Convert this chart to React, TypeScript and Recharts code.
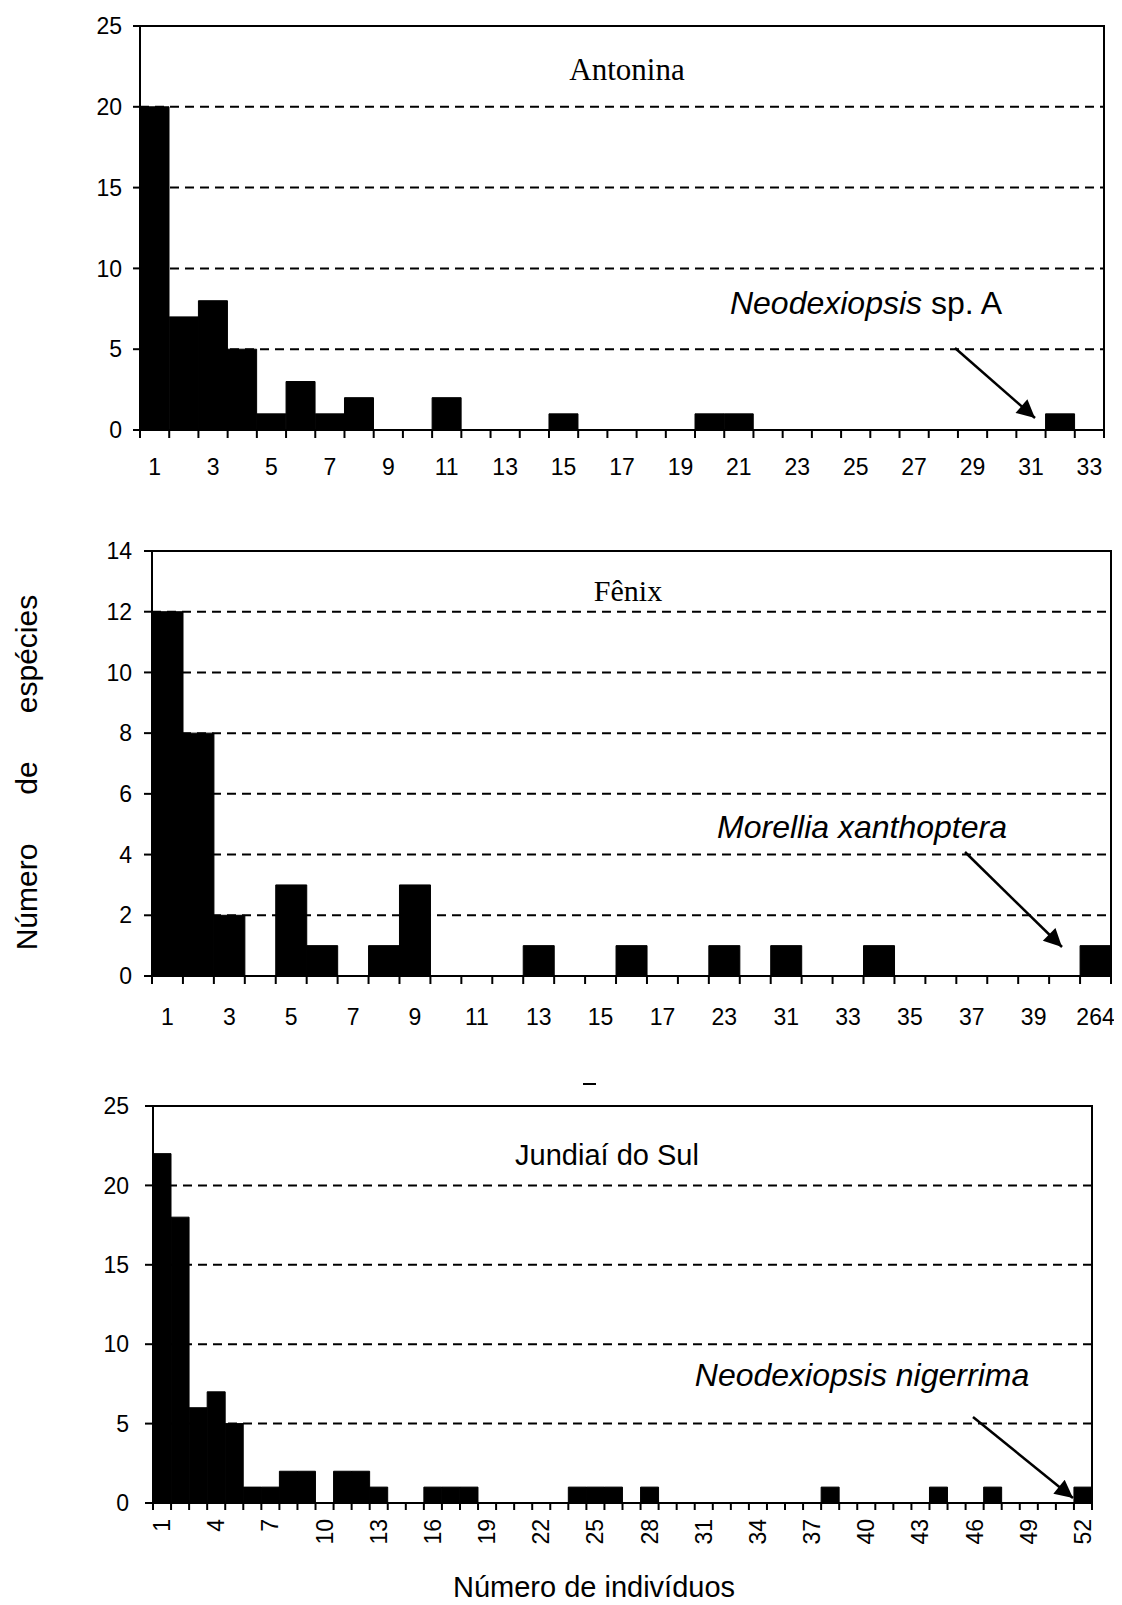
import { BarChart, Bar, XAxis, YAxis, CartesianGrid } from "recharts";

// Antonina
const antoninaCategories = [
  "1", "2", "3", "4", "5", "6", "7", "8", "9", "10", "11", "12", "13", "14", "15", "16", "17",
  "18", "19", "20", "21", "22", "23", "24", "25", "26", "27", "28", "29", "30", "31", "32", "33",
];
const antoninaCounts = [
  20, 7, 8, 5, 1, 3, 1, 2, 0, 0, 2, 0, 0, 0, 1, 0, 0, 0, 0, 1, 1, 0, 0, 0, 0, 0, 0, 0, 0, 0, 0, 1, 0,
];
const antoninaTicks = [0, 5, 10, 15, 20, 25];

// Fênix (only every other label is printed in the original)
const fenixCategories = [
  "1", "2", "3", "4", "5", "6", "7", "8", "9", "10", "11", "12", "13", "14", "15", "16", "17",
  "20", "23", "27", "31", "32", "33", "34", "35", "36", "37", "38", "39", "40", "264",
];
const fenixCounts = [
  12, 8, 2, 0, 3, 1, 0, 1, 3, 0, 0, 0, 1, 0, 0, 1, 0, 0, 1, 0, 1, 0, 0, 1, 0, 0, 0, 0, 0, 0, 1,
];
const fenixTicks = [0, 2, 4, 6, 8, 10, 12, 14];

// Jundiaí do Sul
const jundiaiCategories = [
  "1", "2", "3", "4", "5", "6", "7", "8", "9", "10", "11", "12", "13", "14", "15", "16", "17",
  "18", "19", "20", "21", "22", "23", "24", "25", "26", "27", "28", "29", "30", "31", "32", "33",
  "34", "35", "36", "37", "38", "39", "40", "41", "42", "43", "44", "45", "46", "47", "48", "49",
  "50", "51", "52",
];
const jundiaiCounts = [
  22, 18, 6, 7, 5, 1, 1, 2, 2, 0, 2, 2, 1, 0, 0, 1, 1, 1, 0, 0, 0, 0, 0, 1, 1, 1, 0, 1, 0, 0,
  0, 0, 0, 0, 0, 0, 0, 1, 0, 0, 0, 0, 0, 1, 0, 0, 1, 0, 0, 0, 0, 1,
];
const jundiaiTicks = [0, 5, 10, 15, 20, 25];

const SANS = "'Liberation Sans', Arial, sans-serif";
const SERIF = "'Liberation Serif', 'Times New Roman', serif";

function makeXTick(n: number, plotWidth: number, step: number, markLen: number, gap: number, rotated: boolean) {
  const bw = plotWidth / n;
  return (props: any) => {
    const { x, y, payload, index } = props;
    const i = index ?? 0;
    const show = i % step === 0;
    return (
      <g>
        <line x1={x - bw / 2} x2={x - bw / 2} y1={y} y2={y + markLen} stroke="#000" strokeWidth={2} />
        {i === n - 1 && (
          <line x1={x + bw / 2} x2={x + bw / 2} y1={y} y2={y + markLen} stroke="#000" strokeWidth={2} />
        )}
        {show &&
          (rotated ? (
            <text
              x={x}
              y={y + gap}
              transform={`rotate(-90 ${x} ${y + gap})`}
              textAnchor="end"
              dominantBaseline="central"
              fontFamily={SANS}
              fontSize={23}
              fill="#000"
            >
              {payload.value}
            </text>
          ) : (
            <text
              x={x}
              y={y + gap}
              textAnchor="middle"
              dominantBaseline="central"
              fontFamily={SANS}
              fontSize={23}
              fill="#000"
            >
              {payload.value}
            </text>
          ))}
      </g>
    );
  };
}

interface PanelProps {
  categories: string[];
  counts: number[];
  ticks: number[];
  plotLeft: number;
  plotRight: number;
  plotTop: number;
  plotBottom: number;
  step: number;
  markLen: number;
  labelGap: number;
  rotated?: boolean;
  yTickSize: number;
  yTickMargin: number;
}

function Panel({
  categories,
  counts,
  ticks,
  plotLeft,
  plotRight,
  plotTop,
  plotBottom,
  step,
  markLen,
  labelGap,
  rotated = false,
  yTickSize,
  yTickMargin,
}: PanelProps) {
  const data = categories.map((c, i) => ({ category: c, count: counts[i] }));
  const padTop = 30;
  const axisH = 70;
  const width = 1122;
  const height = plotBottom - plotTop + padTop + axisH;
  const max = ticks[ticks.length - 1];
  return (
    <div style={{ position: "absolute", left: 0, top: plotTop - padTop, width, height }}>
      <BarChart
        width={width}
        height={height}
        data={data}
        barCategoryGap={0}
        margin={{ top: padTop, right: width - plotRight, left: 0, bottom: 0 }}
      >
        <CartesianGrid vertical={false} stroke="#000" strokeWidth={2} strokeDasharray="9 6" />
        <XAxis
          dataKey="category"
          interval={0}
          height={axisH}
          tickLine={false}
          tickSize={0}
          tickMargin={0}
          axisLine={{ stroke: "#000", strokeWidth: 2 }}
          tick={makeXTick(categories.length, plotRight - plotLeft, step, markLen, labelGap, rotated)}
        />
        <YAxis
          width={plotLeft}
          domain={[0, max]}
          ticks={ticks}
          interval={0}
          tickSize={yTickSize}
          tickMargin={yTickMargin}
          tickLine={{ stroke: "#000", strokeWidth: 2 }}
          axisLine={{ stroke: "#000", strokeWidth: 2 }}
          tick={{ fill: "#000", fontSize: 23, fontFamily: SANS }}
        />
        <Bar dataKey="count" fill="#000" stroke="#000" strokeWidth={1} isAnimationActive={false} />
      </BarChart>
      {/* plot frame: top and right edges */}
      <div
        style={{
          position: "absolute",
          left: plotLeft,
          top: padTop - 1,
          width: plotRight - plotLeft + 1,
          height: plotBottom - plotTop + 1,
          borderTop: "2px solid #000",
          borderRight: "2px solid #000",
          boxSizing: "border-box",
          pointerEvents: "none",
        }}
      />
    </div>
  );
}

export default function App() {
  return (
    <div style={{ position: "relative", width: 1122, height: 1605, margin: -8, background: "#fff", overflow: "hidden" }}>
      <Panel
        categories={antoninaCategories}
        counts={antoninaCounts}
        ticks={antoninaTicks}
        plotLeft={140}
        plotRight={1104}
        plotTop={26}
        plotBottom={430}
        step={2}
        markLen={8}
        labelGap={37}
        yTickSize={7}
        yTickMargin={11}
      />
      <Panel
        categories={fenixCategories}
        counts={fenixCounts}
        ticks={fenixTicks}
        plotLeft={152}
        plotRight={1111}
        plotTop={551}
        plotBottom={976}
        step={2}
        markLen={8}
        labelGap={41}
        yTickSize={8}
        yTickMargin={12}
      />
      <Panel
        categories={jundiaiCategories}
        counts={jundiaiCounts}
        ticks={jundiaiTicks}
        plotLeft={153}
        plotRight={1092}
        plotTop={1106}
        plotBottom={1503}
        step={3}
        markLen={7}
        labelGap={16}
        rotated
        yTickSize={8}
        yTickMargin={16}
      />
      <svg
        width={1122}
        height={1605}
        style={{ position: "absolute", left: 0, top: 0, pointerEvents: "none" }}
      >
        <defs>
          <marker
            id="arrowHead"
            viewBox="0 0 10 10"
            refX={10}
            refY={5}
            markerUnits="userSpaceOnUse"
            markerWidth={26}
            markerHeight={18}
            orient="auto"
          >
            <path d="M0,0 L10,5 L0,10 z" fill="#000" />
          </marker>
        </defs>

        <text x={627} y={80} textAnchor="middle" fontFamily={SERIF} fontSize={31} fill="#000">
          Antonina
        </text>
        <text x={628} y={601} textAnchor="middle" fontFamily={SERIF} fontSize={30} fill="#000">
          Fênix
        </text>
        <text x={607} y={1165} textAnchor="middle" fontFamily={SANS} fontSize={29} fill="#000">
          Jundiaí do Sul
        </text>

        <text x={866} y={314} textAnchor="middle" fontFamily={SANS} fontSize={32} fill="#000">
          <tspan fontStyle="italic">Neodexiopsis</tspan> sp. A
        </text>
        <text x={862} y={838} textAnchor="middle" fontFamily={SANS} fontSize={32} fontStyle="italic" fill="#000">
          Morellia xanthoptera
        </text>
        <text x={862} y={1386} textAnchor="middle" fontFamily={SANS} fontSize={32} fontStyle="italic" fill="#000">
          Neodexiopsis nigerrima
        </text>

        <line x1={955} y1={348} x2={1035} y2={418} stroke="#000" strokeWidth={2.5} markerEnd="url(#arrowHead)" />
        <line x1={965} y1={852} x2={1062} y2={947} stroke="#000" strokeWidth={2.5} markerEnd="url(#arrowHead)" />
        <line x1={973} y1={1417} x2={1073} y2={1498} stroke="#000" strokeWidth={2.5} markerEnd="url(#arrowHead)" />

        <line x1={583} y1={1084} x2={596} y2={1084} stroke="#000" strokeWidth={2} />

        {[
          { word: "Número", cy: 897 },
          { word: "de", cy: 778 },
          { word: "espécies", cy: 654 },
        ].map((w) => (
          <text
            key={w.word}
            x={26}
            y={w.cy}
            transform={`rotate(-90 26 ${w.cy})`}
            textAnchor="middle"
            dominantBaseline="central"
            fontFamily={SANS}
            fontSize={30}
            fill="#000"
          >
            {w.word}
          </text>
        ))}
        <text x={594} y={1597} textAnchor="middle" fontFamily={SANS} fontSize={29} fill="#000">
          Número de indivíduos
        </text>
      </svg>
    </div>
  );
}
